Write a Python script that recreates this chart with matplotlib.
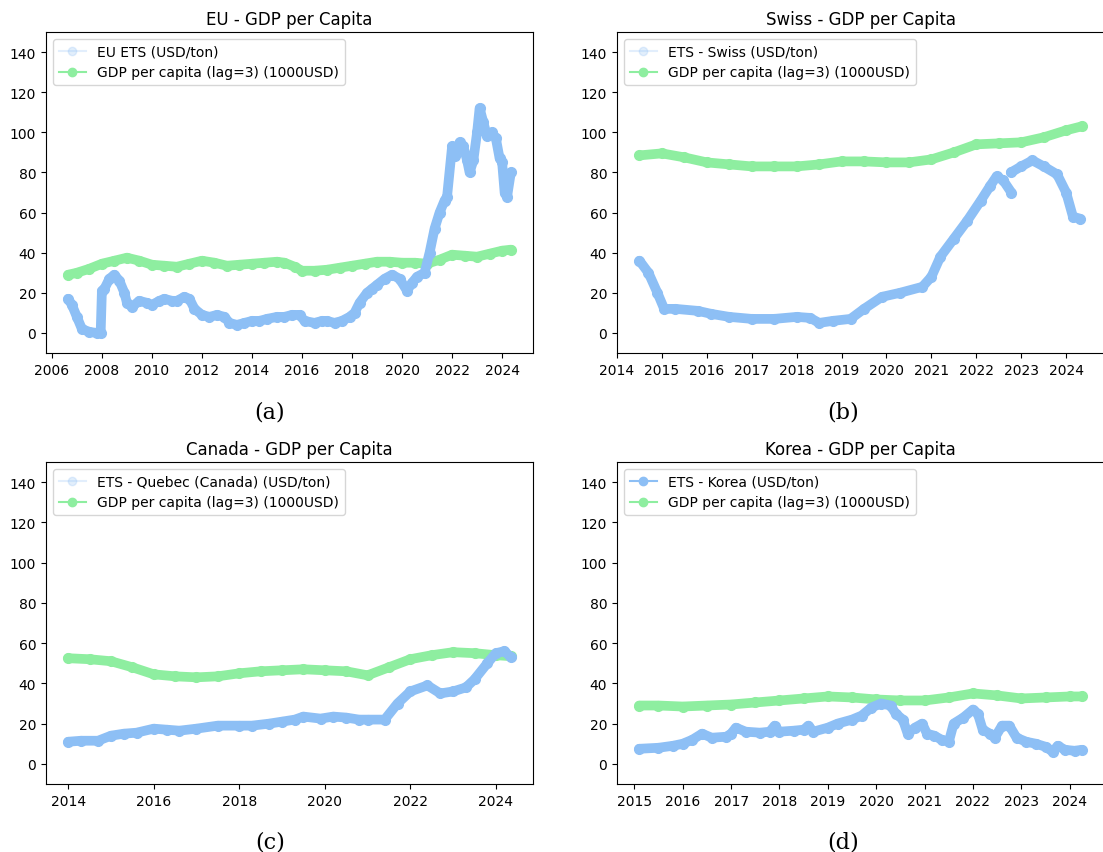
import matplotlib
matplotlib.use('Agg')
import matplotlib.pyplot as plt
import numpy as np
from matplotlib.lines import Line2D

# ---- EU ----
eu_ets_x = [2006.65, 2006.8, 2007.0, 2007.2, 2007.5, 2007.8, 2007.95, 2008.0, 2008.1, 2008.3, 2008.5,
            2008.7, 2008.9, 2009.0, 2009.2, 2009.5, 2009.8, 2010.0, 2010.3, 2010.5, 2010.8, 2011.0,
            2011.3, 2011.5, 2011.7, 2012.0, 2012.3, 2012.6, 2012.9, 2013.1, 2013.4, 2013.7, 2014.0,
            2014.3, 2014.6, 2015.0, 2015.3, 2015.6, 2015.9, 2016.1, 2016.5, 2016.8, 2017.0, 2017.3,
            2017.6, 2017.9, 2018.1, 2018.3, 2018.6, 2018.8, 2019.0, 2019.3, 2019.6, 2019.9, 2020.2,
            2020.4, 2020.6, 2020.9, 2021.1, 2021.3, 2021.5, 2021.7, 2021.8, 2022.0, 2022.1, 2022.3,
            2022.45, 2022.6, 2022.7, 2022.85, 2023.0, 2023.1, 2023.25, 2023.4, 2023.6, 2023.75,
            2023.9, 2024.0, 2024.1, 2024.2, 2024.35]
eu_ets_y = [17, 14, 8, 2, 0.5, 0, 0, 21, 22, 27, 29,
            26, 20, 15, 13, 16, 15, 14, 16, 17, 16, 16,
            18, 17, 12, 9, 8, 9, 8, 5, 4, 5, 6,
            6, 7, 8, 8, 9, 9, 6, 5, 6, 6, 5,
            6, 8, 10, 15, 20, 22, 24, 27, 29, 27, 21,
            25, 28, 30, 40, 52, 60, 66, 68, 93, 88, 95,
            93, 86, 80, 86, 100, 112, 105, 98, 100, 97,
            87, 85, 70, 68, 80]
eu_gdp_x = [2006.65, 2007.0, 2007.5, 2008.0, 2008.5, 2009.0, 2009.5, 2010.0, 2010.5, 2011.0, 2011.5,
            2012.0, 2012.5, 2013.0, 2013.5, 2014.0, 2014.5, 2015.0, 2015.3, 2015.7, 2016.0, 2016.5,
            2017.0, 2017.5, 2018.0, 2018.5, 2019.0, 2019.5, 2020.0, 2020.5, 2021.0, 2021.5, 2022.0,
            2022.5, 2023.0, 2023.5, 2024.0, 2024.35]
eu_gdp_y = [29, 30, 32, 34.5, 36, 37.5, 36, 34, 33.5, 33, 34.5,
            36, 35, 33.5, 34, 34.5, 35, 35.5, 35, 33, 31, 31,
            31.5, 32.5, 33.5, 34.5, 35.5, 35.5, 35, 35, 34.5, 36.5, 39,
            38.5, 38, 39.5, 41, 41.5]

# ---- Swiss ----
ch_ets_x = [2014.5, 2014.7, 2014.9, 2015.05, 2015.3, 2015.8, 2016.1, 2016.5, 2017.0, 2017.5, 2018.0,
            2018.3, 2018.5, 2018.8, 2019.2, 2019.5, 2019.9, 2020.3, 2020.8, 2021.0, 2021.2, 2021.5,
            2021.8, 2022.1, 2022.3, 2022.45, 2022.6, 2022.78, 2022.78, 2022.77, 2023.0, 2023.25,
            2023.5, 2023.8, 2024.0, 2024.15, 2024.3]
ch_ets_y = [36, 30, 20, 12, 12, 11, 9.5, 8, 7, 7, 8,
            7.5, 5, 6, 7, 12, 18, 20, 23, 28, 38, 47,
            56, 66, 73, 78, 76, 70, np.nan, 80, 83, 86,
            83, 79, 70, 58, 57]
ch_gdp_x = [2014.5, 2015.0, 2015.5, 2016.0, 2016.5, 2017.0, 2017.5, 2018.0, 2018.5, 2019.0, 2019.5,
            2020.0, 2020.5, 2021.0, 2021.5, 2022.0, 2022.5, 2023.0, 2023.5, 2024.0, 2024.35]
ch_gdp_y = [88.5, 89.5, 87.5, 85, 84, 83, 83, 83, 84, 85.5, 85.5,
            85, 85, 86.5, 90, 94, 94.5, 95, 97.5, 101, 103]

# ---- Canada ----
ca_ets_x = [2014.0, 2014.3, 2014.7, 2015.0, 2015.3, 2015.6, 2016.0, 2016.3, 2016.6, 2017.0, 2017.5,
            2018.0, 2018.3, 2018.7, 2019.0, 2019.3, 2019.5, 2019.9, 2020.2, 2020.5, 2020.8, 2021.0,
            2021.4, 2021.7, 2022.0, 2022.4, 2022.7, 2023.0, 2023.3, 2023.5, 2023.8, 2024.0, 2024.2,
            2024.35]
ca_ets_y = [11, 11.5, 11.5, 14, 15, 15.5, 17.5, 17, 16.5, 17.5, 19,
            19, 19, 20, 21, 22, 23.5, 22.5, 23.5, 23, 22, 22,
            22, 30, 36, 39, 35, 36, 38, 42, 50, 55, 56,
            53]
ca_gdp_x = [2014.0, 2014.5, 2015.0, 2015.5, 2016.0, 2016.5, 2017.0, 2017.5, 2018.0, 2018.5, 2019.0,
            2019.5, 2020.0, 2020.5, 2021.0, 2021.5, 2022.0, 2022.5, 2023.0, 2023.5, 2024.0, 2024.35]
ca_gdp_y = [52.5, 52, 51, 48, 44.5, 43.5, 43, 43.5, 45, 46, 46.5,
            47, 46.5, 46, 44, 48, 52, 54, 55.5, 55, 54, 53.5]

# ---- Korea ----
kr_ets_x = [2015.1, 2015.5, 2015.8, 2016.0, 2016.2, 2016.4, 2016.6, 2016.9, 2017.0, 2017.1, 2017.3,
            2017.6, 2017.8, 2017.9, 2018.0, 2018.3, 2018.5, 2018.6, 2018.7, 2019.0, 2019.2, 2019.5,
            2019.7, 2019.9, 2020.1, 2020.3, 2020.4, 2020.55, 2020.65, 2020.8, 2020.95, 2021.05,
            2021.2, 2021.35, 2021.5, 2021.6, 2021.8, 2022.0, 2022.1, 2022.2, 2022.35, 2022.45,
            2022.6, 2022.75, 2022.9, 2023.1, 2023.3, 2023.5, 2023.65, 2023.75, 2023.9, 2024.1,
            2024.25]
kr_ets_y = [7.5, 8, 9, 10, 12, 15, 13, 13.5, 15, 18, 16,
            15.5, 16, 19, 16, 16.5, 17, 19, 16, 18, 20, 22,
            24, 28, 30, 29, 25, 22, 15, 18, 20, 15,
            14, 12, 11, 20, 23, 27, 25, 17, 15, 13,
            19, 19, 13, 11, 10, 8.5, 6, 9, 7, 6.5,
            7]
kr_gdp_x = [2015.1, 2015.5, 2016.0, 2016.5, 2017.0, 2017.5, 2018.0, 2018.5, 2019.0, 2019.5, 2020.0,
            2020.5, 2021.0, 2021.5, 2022.0, 2022.5, 2023.0, 2023.5, 2024.0, 2024.25]
kr_gdp_y = [29, 29, 28.5, 29, 29.5, 30.5, 31.5, 32.5, 33.5, 33, 32,
            31.5, 31.5, 33, 35, 34, 32.5, 33, 33.5, 33.5]

titles = ['EU - GDP per Capita', 'Swiss - GDP per Capita', 'Canada - GDP per Capita', 'Korea - GDP per Capita']
ets_labels = ['EU ETS (USD/ton)', 'ETS - Swiss (USD/ton)', 'ETS - Quebec (Canada) (USD/ton)', 'ETS - Korea (USD/ton)']
gdp_label = 'GDP per capita (lag=3) (1000USD)'
captions = ['(a)', '(b)', '(c)', '(d)']

blue = '#8dbff5'
green = '#8eeea0'

W, H = 1103, 853
fig = plt.figure(figsize=(W / 100, H / 100), dpi=100)

# axes boxes in pixels: left, top, right, bottom
boxes = [(46, 33, 533, 354), (617, 33, 1104, 354), (46, 463, 533, 785), (617, 463, 1104, 785)]
cap_pos = [(270, 412), (843, 412), (270, 843), (843, 843)]
tick_sets = [np.arange(2006, 2025, 2), np.arange(2014, 2025, 1), np.arange(2014, 2025, 2), np.arange(2015, 2025, 1)]
legend_alpha = [0.25, 0.25, 0.25, 1.0]

data = [(eu_ets_x, eu_ets_y, eu_gdp_x, eu_gdp_y),
        (ch_ets_x, ch_ets_y, ch_gdp_x, ch_gdp_y),
        (ca_ets_x, ca_ets_y, ca_gdp_x, ca_gdp_y),
        (kr_ets_x, kr_ets_y, kr_gdp_x, kr_gdp_y)]

for i in range(4):
    l, t, r, b = boxes[i]
    ax = fig.add_axes([l / W, 1 - b / H, (r - l) / W, (b - t) / H])
    ex, ey, gx, gy = data[i]
    ax.plot(gx, gy, color=green, lw=7, marker='o', ms=7,
            solid_capstyle='round', solid_joinstyle='round')
    ax.plot(ex, ey, color=blue, lw=7, marker='o', ms=7,
            solid_capstyle='round', solid_joinstyle='round')
    ax.set_ylim(-10, 150)
    ax.set_yticks(np.arange(0, 141, 20))
    ax.set_xticks(tick_sets[i])
    ax.tick_params(labelsize=10)
    ax.set_title(titles[i], fontsize=12)
    h1 = Line2D([], [], color=blue, marker='o', lw=1.5, ms=6, alpha=legend_alpha[i])
    h2 = Line2D([], [], color=green, marker='o', lw=1.5, ms=6)
    ax.legend([h1, h2], [ets_labels[i], gdp_label], loc='upper left', fontsize=10)
    fig.text(cap_pos[i][0] / W, 1 - cap_pos[i][1] / H, captions[i],
             family='DejaVu Serif', fontsize=16, ha='center', va='center')

fig.savefig('out.png', dpi=100)
